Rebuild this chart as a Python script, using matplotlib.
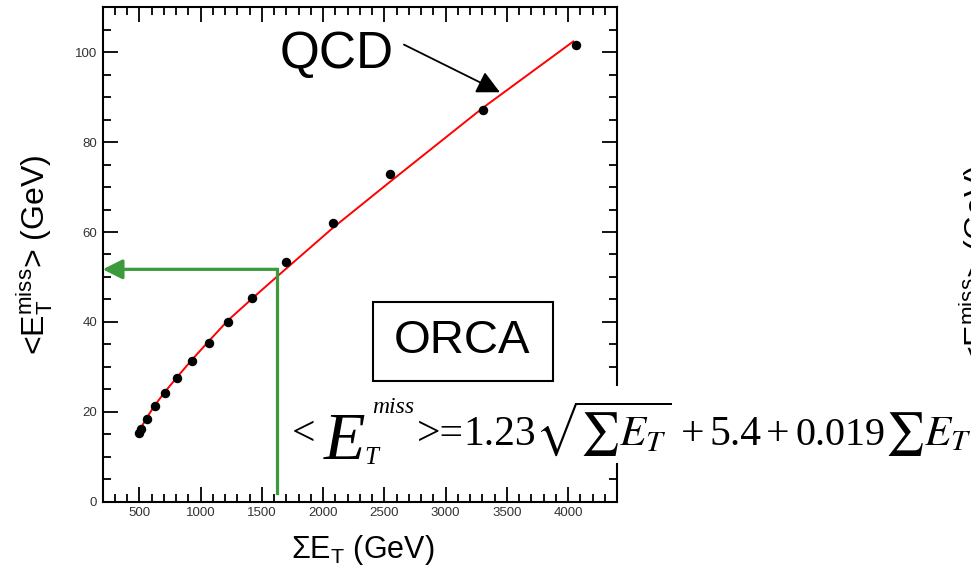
import numpy as np
import matplotlib.pyplot as plt
from matplotlib.patches import Rectangle
from matplotlib.ticker import MultipleLocator

plt.rcParams['font.family'] = ['Liberation Sans', 'DejaVu Sans']
plt.rcParams['mathtext.fontset'] = 'custom'
plt.rcParams['mathtext.rm'] = 'Liberation Sans'
plt.rcParams['mathtext.it'] = 'Liberation Sans:italic'
plt.rcParams['mathtext.sf'] = 'Liberation Sans'

# ORCA points: sum E_T (GeV) vs mean missing E_T (GeV)
sum_et = [498, 510, 559, 627, 708, 809, 926, 1068, 1225, 1419, 1694, 2078, 2543, 3303, 4062]
met_mean = [15.3, 16.1, 18.4, 21.2, 24.2, 27.5, 31.2, 35.3, 40.0, 45.4, 53.3, 62.1, 72.9, 87.1, 101.7]

# fitted curve as drawn (red)
fit_x = [518, 560, 627, 710, 804, 926, 1076, 1225, 1470, 1620, 2083, 2543, 3308, 4043]
fit_y = [16.7, 18.7, 21.5, 24.5, 27.6, 31.5, 36.0, 40.4, 46.4, 50.0, 61.0, 71.1, 87.7, 102.4]

# green read-off arrow
read_x = 1620
read_y = 51.7
read_bottom = 1.9

xticks = [500, 1000, 1500, 2000, 2500, 3000, 3500, 4000]
yticks = [0, 20, 40, 60, 80, 100]

W, H = 971, 574
green = '#3b9a3b'


def px(x, y):
    # image pixel -> figure fraction
    return x / W, 1 - y / H


fig = plt.figure(figsize=(W / 100, H / 100), dpi=100)
ax = fig.add_axes([102.7 / W, 1 - 501.7 / H, (617 - 102.7) / W, (501.7 - 7.3) / H])

ax.plot(fit_x, fit_y, color='#ff0000', lw=1.4, zorder=2)
ax.plot(sum_et, met_mean, 'o', color='black', ms=5.8, zorder=3)

ax.plot([read_x, read_x], [read_bottom, read_y], color=green, lw=2.3, zorder=4)
ax.annotate('', xy=(200, read_y), xytext=(read_x + 5, read_y),
            arrowprops=dict(arrowstyle='-|>,head_length=0.6,head_width=0.3',
                            color=green, lw=2.3, mutation_scale=20,
                            shrinkA=0, shrinkB=0), zorder=4)

ax.set_xlim(200, 4400)
ax.set_ylim(0, 110)
ax.set_xticks(xticks)
ax.set_yticks(yticks)
ax.xaxis.set_minor_locator(MultipleLocator(100))
ax.yaxis.set_minor_locator(MultipleLocator(5))
ax.tick_params(which='both', direction='in', top=True, right=True, width=1.3,
               labelsize=9.5, labelcolor='#333333')
ax.tick_params(which='major', length=11, pad=4)
ax.tick_params(which='minor', length=6)
for s in ax.spines.values():
    s.set_linewidth(1.5)

# QCD label and arrow
ax.text(2113, 99.6, 'QCD', fontsize=37, ha='center', va='center')
ax.annotate('', xy=(3444, 91.1), xytext=(2660, 101.7),
            arrowprops=dict(arrowstyle='-|>,head_length=0.7,head_width=0.35',
                            color='black', lw=1.3, mutation_scale=20,
                            shrinkA=0, shrinkB=0))

# ORCA box
ax.add_patch(Rectangle((2404, 26.9), 3874 - 2404, 44.5 - 26.9, fill=False,
                       edgecolor='black', lw=1.5, zorder=5))
ax.text(3134, 35.8, 'ORCA', fontsize=34, ha='center', va='center', zorder=5)

# axis labels
fig.text(*px(35, 255), r'<E$_\mathregular{T}^\mathregular{miss}$> (GeV)',
         rotation=90, ha='center', va='center', fontsize=23)
fig.text(*px(363, 550), r'ΣE$_\mathregular{T}$ (GeV)', ha='center', va='center', fontsize=22)
# neighbouring chart's label, cut by the edge
fig.text(*px(957, 265), r'<E$_\mathregular{T}^\mathregular{miss}$> (GeV)',
         rotation=90, ha='left', va='center', fontsize=23)

# formula on a white patch
fig.add_artist(Rectangle(px(285, 463), 1, (463 - 386) / H, transform=fig.transFigure,
                         facecolor='white', edgecolor='none', zorder=5))


def ftxt(x, y, s, size, italic=False, math=False):
    kw = dict(fontsize=size, va='baseline', ha='left', zorder=6)
    if math:
        kw['math_fontfamily'] = 'stix'
    else:
        kw['family'] = 'Liberation Serif'
        kw['style'] = 'italic' if italic else 'normal'
    fig.text(*px(x, y), s, **kw)


base = 445
ftxt(292, base, '<', 30)
ftxt(324, 459, 'E', 49, italic=True)
ftxt(372, 413, 'miss', 17, italic=True)
ftxt(364, 464, 'T', 18, italic=True)
ftxt(417, base, '>=', 30)
ftxt(463, base, '1.23', 30)
ftxt(535, base, r'$\sqrt{\sum E_T}$', 31, math=True)
ftxt(681, base, '+', 30)
ftxt(709, base, '5.4', 30)
ftxt(766, base, '+', 30)
ftxt(795, base, '0.019', 29)
ftxt(885, base, r'$\sum E_T$', 31, math=True)

fig.savefig('out.png', dpi=100)
